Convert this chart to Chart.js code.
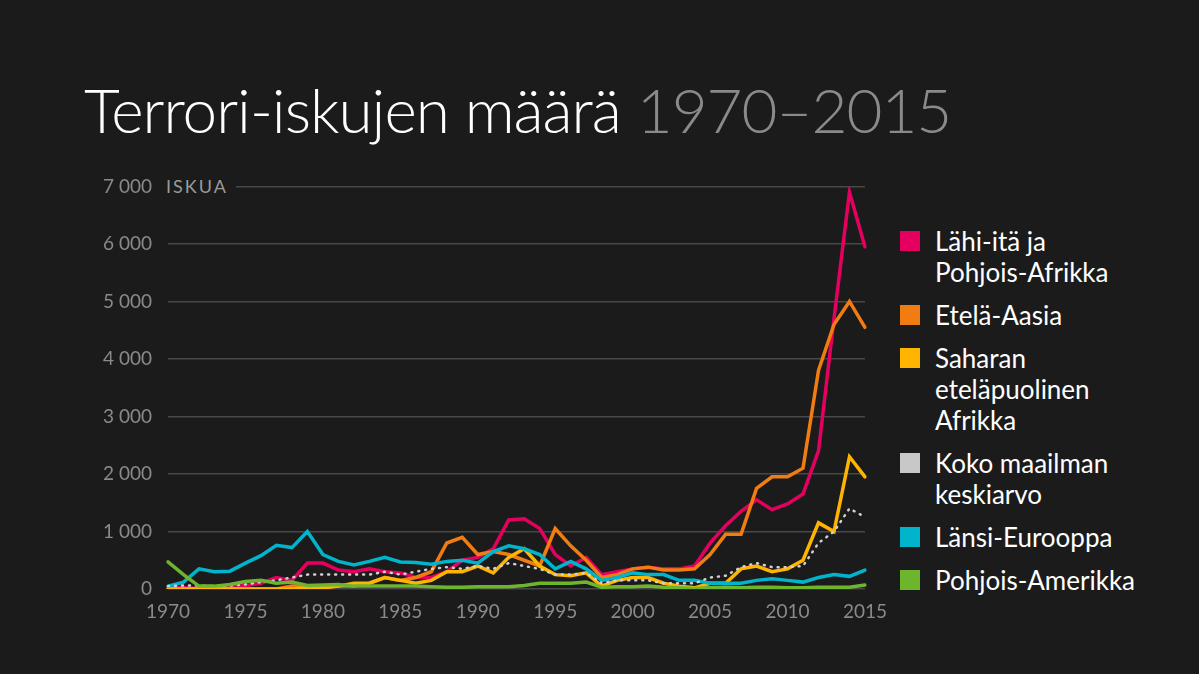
<!DOCTYPE html>
<html>
<head>
<meta charset="utf-8">
<script src="https://cdn.jsdelivr.net/npm/chart.js@4"></script>
<style>
  body { margin: 0; background: #1b1b1b; width: 1199px; height: 674px; overflow: hidden; font-family: Lato, "Open Sans", sans-serif; }
  h1 { position: absolute; left: 84px; top: 72px; margin: 0; font-weight: 300; font-size: 62px; color: #fff; letter-spacing: -1px; }
  h1 span { color: #8a8a8a; font-weight: 300; }
  #wrap { position: absolute; left: 100px; top: 159px; width: 790px; height: 470px; }
  #unit { position: absolute; left: 166px; top: 175px; padding-right: 8px; background: #1b1b1b; color: #9a9a9a; font-size: 18px; letter-spacing: 2px; }
  #legend { position: absolute; left: 900px; top: 226px; color: #fff; font-size: 26px; line-height: 31px; }
  .item { position: relative; padding-left: 35px; margin-bottom: 12px; }
  .item i { position: absolute; left: 0; top: 5px; width: 20px; height: 20px; }
</style>
</head>
<body>
<h1>Terrori-iskujen määrä <span>1970–2015</span></h1>
<div id="wrap"><canvas id="chart"></canvas></div>
<div id="unit">ISKUA</div>
<div id="legend"></div>
<script>
const years = [];
for (let y = 1970; y <= 2015; y++) years.push(y);

const middleEast = [30,20,10,20,30,60,100,200,150,450,450,330,300,350,300,280,200,200,300,500,550,700,1200,1220,1050,600,400,550,250,300,350,380,350,350,400,800,1100,1350,1550,1380,1480,1650,2400,4700,6900,5950];
const southAsia = [0,0,0,0,0,0,0,0,50,50,30,50,50,100,200,150,200,300,800,900,600,650,600,500,400,1050,750,500,200,250,350,380,330,330,350,600,950,950,1750,1950,1950,2100,3800,4600,5000,4550];
const subSahara = [0,0,0,0,0,0,0,0,0,20,20,50,100,100,200,150,100,150,300,300,400,280,550,700,400,250,230,280,50,150,200,200,100,50,20,100,100,350,400,300,350,500,1150,1000,2300,1950];
const worldAvg = [50,60,60,50,60,80,120,150,200,250,250,250,250,250,300,250,300,350,380,350,400,350,450,400,350,250,250,280,100,150,150,150,100,100,100,200,230,380,450,380,380,400,800,1000,1400,1250];
const westEurope = [50,120,350,300,310,450,580,760,720,1000,600,480,420,480,550,470,460,430,480,500,450,650,750,700,600,350,480,350,150,200,280,250,250,150,150,100,100,100,150,180,150,120,200,250,220,330];
const northAmerica = [470,250,50,50,80,130,150,100,120,60,70,80,50,50,50,50,50,40,30,30,40,40,40,60,100,100,100,120,30,40,40,50,30,20,10,20,30,20,30,30,20,20,30,30,30,70];

const series = [
    { label: 'Lähi-itä ja<br>Pohjois-Afrikka', data: middleEast, color: '#e5005f' },
    { label: 'Etelä-Aasia', data: southAsia, color: '#f07c12' },
    { label: 'Saharan<br>eteläpuolinen<br>Afrikka', data: subSahara, color: '#ffb400' },
    { label: 'Koko maailman<br>keskiarvo', data: worldAvg, color: '#d0d0d0', dotted: true },
    { label: 'Länsi-Eurooppa', data: westEurope, color: '#00b4cc' },
    { label: 'Pohjois-Amerikka', data: northAmerica, color: '#6db52d' }
];

// legend in html
const legend = document.getElementById('legend');
series.forEach(s => {
    const div = document.createElement('div');
    div.className = 'item';
    div.innerHTML = `<i style="background:${s.color === '#d0d0d0' ? '#c8c8c8' : s.color}"></i>${s.label}`;
    legend.appendChild(div);
});

// draw order: dotted avg and small ones underneath
const order = [5, 3, 4, 2, 1, 0];
const datasets = order.map(i => {
    const s = series[i];
    return {
        data: s.data,
        borderColor: s.color,
        borderWidth: s.dotted ? 2.5 : 3.5,
        borderDash: s.dotted ? [1, 6] : [],
        borderCapStyle: 'round',
        pointRadius: 0,
        tension: 0,
        fill: false
    };
});

new Chart(document.getElementById('chart').getContext('2d'), {
    type: 'line',
    data: { labels: years, datasets },
    options: {
        animation: false,
        responsive: true,
        maintainAspectRatio: false,
        layout: { padding: { top: 10, right: 0 } },
        plugins: { legend: { display: false }, tooltip: { enabled: false } },
        scales: {
            x: {
                offset: false,
                grid: { display: false },
                border: { display: false },
                afterFit: (s) => { s.height = 40; },
                ticks: {
                    autoSkip: false, maxRotation: 0, color: '#8a8a8a',
                    font: { size: 19, family: 'Lato' },
                    callback: function (v, i) { return years[i] % 5 === 0 ? years[i] : ''; }
                }
            },
            y: {
                min: 0, max: 7000,
                border: { display: false },
                afterFit: (s) => { s.width = 68; },
                grid: { color: '#484848', lineWidth: 1.5, drawTicks: false },
                ticks: {
                    stepSize: 1000, padding: 16, color: '#8a8a8a',
                    font: { size: 19, family: 'Lato' },
                    callback: v => v >= 1000 ? Math.floor(v / 1000) + ' 000' : v
                }
            }
        }
    }
});
</script>
</body>
</html>
